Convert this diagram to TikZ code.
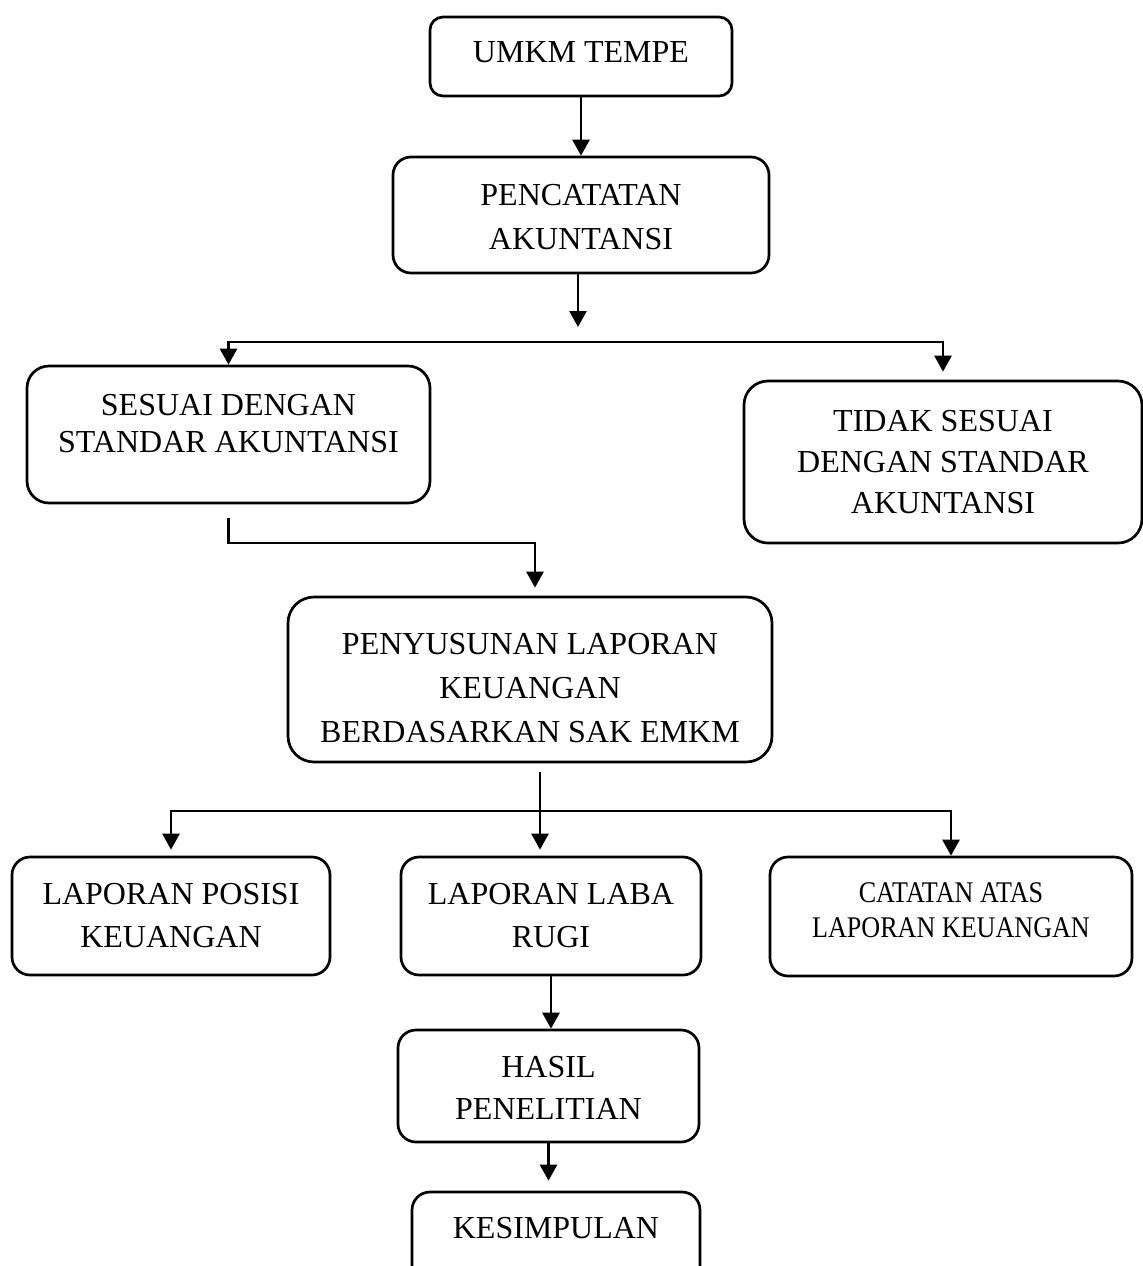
\documentclass[tikz,border=0pt]{standalone}
\usepackage{fontspec}
\setmainfont{Liberation Serif}
\newfontfamily\narrowfont[FakeStretch=0.87]{Liberation Serif}
\usepackage{tikz}
\usetikzlibrary{arrows.meta}
\tikzset{
  BX/.style={rectangle,draw,line width=1.35pt,inner sep=0pt,rounded corners=#1},
  BX/.default=9pt,
  TX/.style={align=center,inner sep=0pt,font=\fontsize{16}{#1}\selectfont},
  TX/.default=22pt,
  arr/.style={-{Triangle[length=8pt,width=8.5pt]},line width=1.3pt}
}
\begin{document}
\begin{tikzpicture}[x=0.5pt,y=-0.5pt]
  \useasboundingbox (0,0) rectangle (1143,1266);

  \node[BX=6.5pt,minimum width=151pt,minimum height=39.5pt] (umkm) at (581,56.5) {};
  \node[TX] (umkmT) at (581,52) {UMKM TEMPE};

  \node[BX,minimum width=188pt,minimum height=58pt] (catat) at (581,215) {};
  \node[TX] (catatT) at (581,217) {PENCATATAN\\AKUNTANSI};

  \node[BX=11pt,minimum width=201.5pt,minimum height=68.5pt] (sesuai) at (228.5,434.5) {};
  \node[TX=18.5pt] (sesuaiT) at (228.5,424) {SESUAI DENGAN\\STANDAR AKUNTANSI};

  \node[BX=12pt,minimum width=199pt,minimum height=81pt] (tidak) at (943,462) {};
  \node[TX=20.5pt] (tidakT) at (943,462) {TIDAK SESUAI\\DENGAN STANDAR\\AKUNTANSI};

  \node[BX=13pt,minimum width=242pt,minimum height=82.5pt] (susun) at (530,679.5) {};
  \node[TX] (susunT) at (530,688) {PENYUSUNAN LAPORAN\\KEUANGAN\\BERDASARKAN SAK EMKM};

  \node[BX,minimum width=159pt,minimum height=59pt] (posisi) at (171,916) {};
  \node[TX=21.5pt] (posisiT) at (171,915.5) {LAPORAN POSISI\\KEUANGAN};

  \node[BX,minimum width=150pt,minimum height=59pt] (laba) at (551,916) {};
  \node[TX=21.5pt] (labaT) at (551,915.5) {LAPORAN LABA\\RUGI};

  \node[BX,minimum width=181pt,minimum height=59.5pt] (calk) at (951,916.5) {};
  \node[TX,font=\narrowfont\fontsize{15}{17.5}\selectfont] (calkT) at (951,910.5) {CATATAN ATAS\\LAPORAN KEUANGAN};

  \node[BX,minimum width=150.5pt,minimum height=56pt] (hasil) at (548.5,1086) {};
  \node[TX=21pt] (hasilT) at (548.5,1088) {HASIL\\PENELITIAN};

  \node[BX,minimum width=144pt,minimum height=54pt] (simpul) at (556,1246) {};
  \node[TX] (simpulT) at (556,1228) {KESIMPULAN};

  % connectors
  \coordinate (drop1) at (578,327);
  \coordinate (fork1) at (578,342);
  \coordinate (bend1) at (535,543);
  \coordinate (fork2) at (540,811);

  \draw[arr](umkm)--(catat);
  \draw[arr](catat.south -| drop1)--(drop1);
  \draw[arr](fork1)-|(sesuai.north);
  \draw[arr,shorten >=4pt](fork1)-|(tidak.north);
  \draw[arr,shorten <=7pt,shorten >=4pt](sesuai.south)|-(bend1)--(bend1 |- susun.north);
  \draw[arr,shorten <=4.5pt,shorten >=3pt](susun.south -| fork2)--(fork2 |- laba.north);
  \draw[arr,shorten >=3pt](fork2)-|(posisi.north);
  \draw[arr](fork2)-|(calk.north);
  \draw[arr](laba.south)--(laba.south |- hasil.north);
  \draw[arr,shorten >=5pt](hasil.south)--(hasil.south |- simpul.north);
\end{tikzpicture}
\end{document}
